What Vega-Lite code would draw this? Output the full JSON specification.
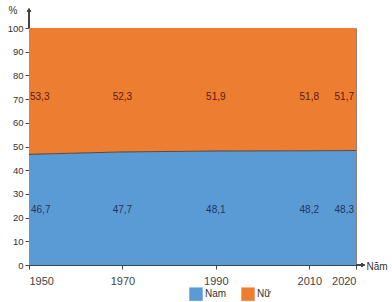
{
  "$schema": "https://vega.github.io/schema/vega-lite/v6.json",
  "width": 327,
  "height": 237,
  "autosize": {"type": "none"},
  "padding": {"left": 29, "top": 28, "right": 36, "bottom": 37},
  "config": {
    "font": "Liberation Sans",
    "view": {"stroke": "#9a8070", "strokeWidth": 1},
    "axis": {"labelColor": "#333", "labelFontSize": 9.5, "labelFontWeight": "normal", "labelOverlap": false, "domainColor": "#444", "tickColor": "#444", "grid": false}
  },
  "data": {
    "values": [
      {"year": 1950, "sex": "Nam", "value": 46.7},
      {"year": 1970, "sex": "Nam", "value": 47.7},
      {"year": 1990, "sex": "Nam", "value": 48.1},
      {"year": 2010, "sex": "Nam", "value": 48.2},
      {"year": 2020, "sex": "Nam", "value": 48.3},
      {"year": 1950, "sex": "Nữ", "value": 53.3},
      {"year": 1970, "sex": "Nữ", "value": 52.3},
      {"year": 1990, "sex": "Nữ", "value": 51.9},
      {"year": 2010, "sex": "Nữ", "value": 51.8},
      {"year": 2020, "sex": "Nữ", "value": 51.7}
    ]
  },
  "transform": [
    {"calculate": "replace(format(datum.value, '.1f'), '.', ',')", "as": "label"},
    {"calculate": "datum.sex == 'Nam' ? 0 : 1", "as": "ord"}
  ],
  "layer": [
    {
      "mark": {"type": "area", "opacity": 1},
      "encoding": {
        "x": {
          "field": "year", "type": "quantitative",
          "scale": {"domain": [1950, 2020], "nice": false, "zero": false},
          "axis": {
            "values": [1950, 1970, 1990, 2010, 2020], "format": "d",
            "labelFontSize": 11, "labelPadding": 6, "tickSize": 4, "labelColor": "#444",
            "title": "Năm", "titleFontSize": 10, "titleFontWeight": "normal", "titleColor": "#333",
            "titleAnchor": "start", "titleAlign": "left", "titleBaseline": "middle",
            "titleX": 337, "titleY": 1
          }
        },
        "y": {
          "field": "value", "type": "quantitative", "stack": "zero",
          "scale": {"domain": [0, 100], "nice": false},
          "axis": {
            "values": [0, 10, 20, 30, 40, 50, 60, 70, 80, 90, 100], "labelOverlap": false,
            "tickSize": 4, "labelPadding": 2,
            "title": "%", "titleAngle": 0, "titleFontSize": 10, "titleFontWeight": "normal", "titleColor": "#333",
            "titleAlign": "left", "titleBaseline": "middle", "titleX": -21, "titleY": -18
          }
        },
        "color": {
          "field": "sex", "type": "nominal",
          "scale": {"domain": ["Nam", "Nữ"], "range": ["#5b9bd5", "#ed7d31"]},
          "legend": {
            "title": null, "orient": "none", "direction": "horizontal",
            "legendX": 160, "legendY": 259,
            "symbolType": "square", "symbolSize": 180, "symbolStrokeWidth": 0,
            "labelFontSize": 10, "labelColor": "#333", "columnPadding": 14, "labelOffset": 2
          }
        },
        "order": {"field": "ord", "type": "quantitative"}
      }
    },
    {
      "transform": [{"filter": "datum.sex == 'Nam'"}],
      "mark": {"type": "line", "color": "#333", "strokeWidth": 0.8},
      "encoding": {
        "x": {"field": "year", "type": "quantitative"},
        "y": {"field": "value", "type": "quantitative", "axis": {"values": [0, 10, 20, 30, 40, 50, 60, 70, 80, 90, 100]}}
      }
    },
    {
      "mark": {"type": "rule", "color": "#444", "strokeWidth": 1, "clip": false},
      "encoding": {
        "x": {"datum": 1950},
        "y": {"datum": 100, "axis": {"values": [0, 10, 20, 30, 40, 50, 60, 70, 80, 90, 100]}},
        "y2": {"datum": 107}
      }
    },
    {
      "mark": {"type": "rule", "color": "#444", "strokeWidth": 1, "clip": false},
      "encoding": {
        "x": {"datum": 2020},
        "x2": {"datum": 2021.2},
        "y": {"datum": 0, "axis": {"values": [0, 10, 20, 30, 40, 50, 60, 70, 80, 90, 100]}}
      }
    },
    {
      "mark": {"type": "point", "shape": "triangle-up", "filled": true, "color": "#444", "size": 18, "opacity": 1, "clip": false},
      "encoding": {"x": {"datum": 1950}, "y": {"datum": 107.5, "axis": {"values": [0, 10, 20, 30, 40, 50, 60, 70, 80, 90, 100]}}}
    },
    {
      "mark": {"type": "point", "shape": "triangle-right", "filled": true, "color": "#444", "size": 18, "opacity": 1, "clip": false},
      "encoding": {"x": {"datum": 2021.5}, "y": {"datum": 0, "axis": {"values": [0, 10, 20, 30, 40, 50, 60, 70, 80, 90, 100]}}}
    },
    {
      "transform": [{"filter": "datum.sex == 'Nam' && datum.year == 1950"}],
      "mark": {"type": "text", "align": "left", "dx": 2, "fontSize": 10, "color": "#1f3560"},
      "encoding": {"x": {"field": "year", "type": "quantitative"}, "y": {"datum": 23, "axis": {"values": [0, 10, 20, 30, 40, 50, 60, 70, 80, 90, 100]}}, "text": {"field": "label"}}
    },
    {
      "transform": [{"filter": "datum.sex == 'Nam' && datum.year > 1950 && datum.year < 2020"}],
      "mark": {"type": "text", "align": "center", "fontSize": 10, "color": "#1f3560"},
      "encoding": {"x": {"field": "year", "type": "quantitative"}, "y": {"datum": 23, "axis": {"values": [0, 10, 20, 30, 40, 50, 60, 70, 80, 90, 100]}}, "text": {"field": "label"}}
    },
    {
      "transform": [{"filter": "datum.sex == 'Nam' && datum.year == 2020"}],
      "mark": {"type": "text", "align": "right", "dx": -2, "fontSize": 10, "color": "#1f3560"},
      "encoding": {"x": {"field": "year", "type": "quantitative"}, "y": {"datum": 23, "axis": {"values": [0, 10, 20, 30, 40, 50, 60, 70, 80, 90, 100]}}, "text": {"field": "label"}}
    },
    {
      "transform": [{"filter": "datum.sex == 'Nữ' && datum.year == 1950"}],
      "mark": {"type": "text", "align": "left", "dx": 1, "fontSize": 10, "color": "#5a1a0a"},
      "encoding": {"x": {"field": "year", "type": "quantitative"}, "y": {"datum": 71, "axis": {"values": [0, 10, 20, 30, 40, 50, 60, 70, 80, 90, 100]}}, "text": {"field": "label"}}
    },
    {
      "transform": [{"filter": "datum.sex == 'Nữ' && datum.year > 1950 && datum.year < 2020"}],
      "mark": {"type": "text", "align": "center", "fontSize": 10, "color": "#5a1a0a"},
      "encoding": {"x": {"field": "year", "type": "quantitative"}, "y": {"datum": 71, "axis": {"values": [0, 10, 20, 30, 40, 50, 60, 70, 80, 90, 100]}}, "text": {"field": "label"}}
    },
    {
      "transform": [{"filter": "datum.sex == 'Nữ' && datum.year == 2020"}],
      "mark": {"type": "text", "align": "right", "dx": -2, "fontSize": 10, "color": "#5a1a0a"},
      "encoding": {"x": {"field": "year", "type": "quantitative"}, "y": {"datum": 71, "axis": {"values": [0, 10, 20, 30, 40, 50, 60, 70, 80, 90, 100]}}, "text": {"field": "label"}}
    }
  ]
}
